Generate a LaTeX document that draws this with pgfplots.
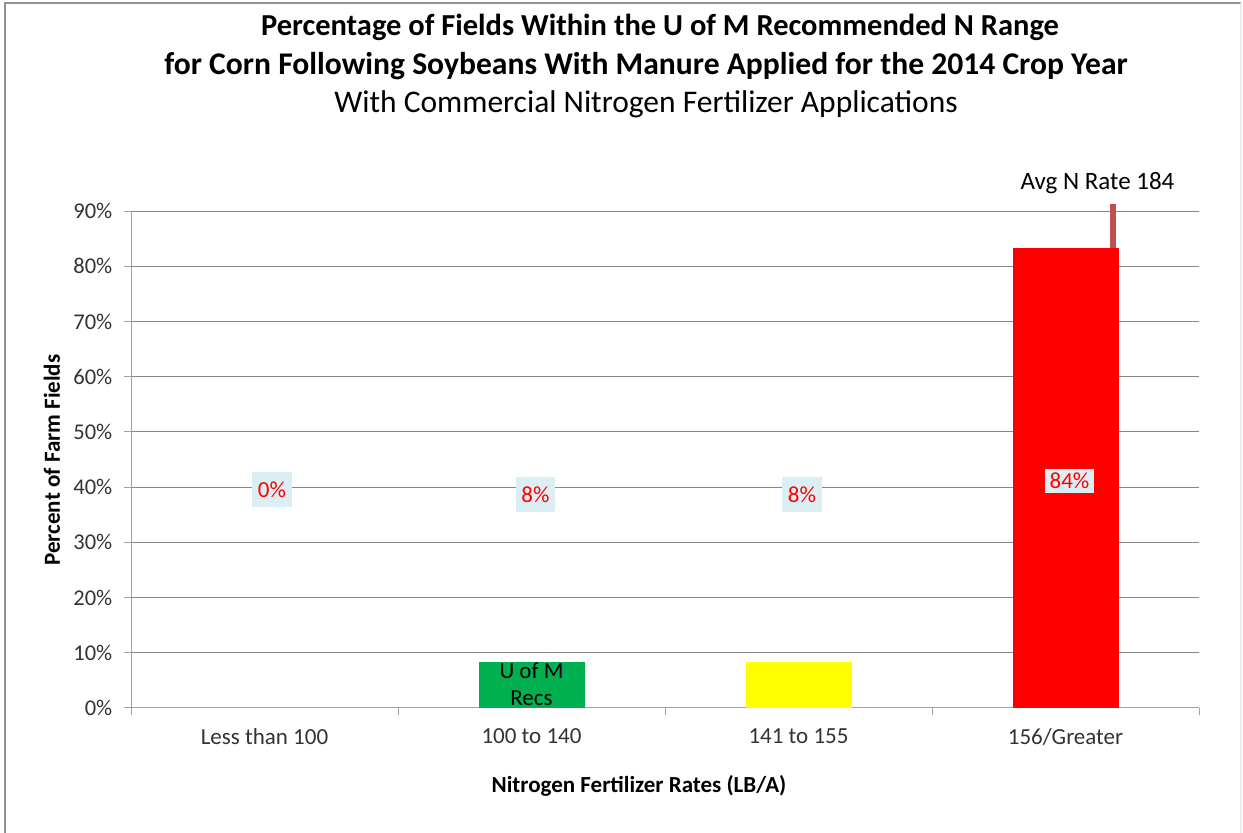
\documentclass[border=0pt]{standalone}
\usepackage{fontspec}
\setmainfont{Carlito}
\usepackage{pgfplots}
\pgfplotsset{compat=1.18}
\definecolor{gridc}{HTML}{868686}
\definecolor{axc}{HTML}{A0A0A0}
\definecolor{tickc}{HTML}{333333}
\definecolor{ugreen}{HTML}{00B050}
\definecolor{uyellow}{HTML}{FFFF00}
\definecolor{ured}{HTML}{FF0000}
\definecolor{avgc}{HTML}{C0504D}
\definecolor{lblbox}{HTML}{DBEEF4}
\begin{document}
\begin{tikzpicture}[x=1pt,y=1pt]
\useasboundingbox (0,0) rectangle (1243,833);
\fill[white] (0,0) rectangle (1243,833);
\draw[gray!85, line width=2pt] (5,0) -- (5,830) -- (1241,830);
\draw[gray!15, line width=1.5pt] (1241,830) -- (1241,0);
\node[font=\fontsize{30.5}{34}\selectfont\bfseries] at (660,806) {Percentage of Fields Within the U of M Recommended N Range};
\node[font=\fontsize{31.6}{35}\selectfont\bfseries] at (646,767) {for Corn Following Soybeans With Manure Applied for the 2014 Crop Year};
\node[font=\fontsize{31.5}{35}\selectfont] at (646,729) {With Commercial Nitrogen Fertilizer Applications};
\node[font=\fontsize{23}{27}\selectfont\bfseries, rotate=90] at (52,373) {Percent of Farm Fields};
\node[font=\fontsize{23}{27}\selectfont\bfseries] at (639,47) {Nitrogen Fertilizer Rates (LB/A)};
\begin{axis}[
  at={(131pt,125pt)}, anchor=south west,
  width=1068pt, height=497pt, scale only axis,
  xmin=-0.5, xmax=3.5, ymin=0, ymax=90,
  ytick={0,10,...,90},
  yticklabel={\pgfmathprintnumber{\tick}\%},
  xtick={0,1,2,3},
  xticklabels={Less than 100,100 to 140,141 to 155,156/Greater},
  minor xtick={-0.5,0.5,1.5,2.5,3.5},
  major x tick style={draw=none},
  minor x tick style={draw=axc, line width=1pt},
  ytick style={draw=axc, line width=1pt},
  tick align=outside,
  major tick length=7pt, minor tick length=7pt,
  axis x line*=bottom, axis y line*=left,
  axis line style={draw=axc, line width=1pt, -},
  ymajorgrids, grid style={draw=gridc, line width=1pt},
  /pgf/number format/assume math mode=true,
  yticklabel style={font=\fontsize{22.5}{26}\selectfont, text=tickc, inner sep=0pt, xshift=-11.5pt},
  xticklabel style={font=\fontsize{23}{27}\selectfont, text=tickc, yshift=-10pt},
  clip=false,
]
\addplot[avgc, line width=6pt, no marks] coordinates {(3.178,83.3) (3.178,91.3)};
\addplot[ybar, bar shift=0pt, bar width=106pt, fill=ugreen, draw=none] coordinates {(1,8.3)};
\addplot[ybar, bar shift=0pt, bar width=106pt, fill=uyellow, draw=none] coordinates {(2,8.3)};
\addplot[ybar, bar shift=0pt, bar width=106pt, fill=ured, draw=none] coordinates {(3,83.3)};
\tikzset{vlab/.style={fill=lblbox, text=ured, font=\fontsize{23}{27}\selectfont, inner xsep=5.5pt, inner ysep=0pt, minimum height=35pt}}
\node[vlab] at (axis cs:0.028,39.6) {0\%};
\node[vlab] at (axis cs:1.015,38.7) {8\%};
\node[vlab] at (axis cs:2.013,38.7) {8\%};
\node[vlab, minimum height=24pt, inner xsep=5pt] at (axis cs:3.015,41.1) {84\%};
\node[font=\fontsize{23}{27}\selectfont, align=center] at (axis cs:1,4.4) {U of M\\Recs};
\node[font=\fontsize{25}{29}\selectfont] at (axis cs:3.12,95.1) {Avg N Rate 184};
\end{axis}
\end{tikzpicture}
\end{document}
